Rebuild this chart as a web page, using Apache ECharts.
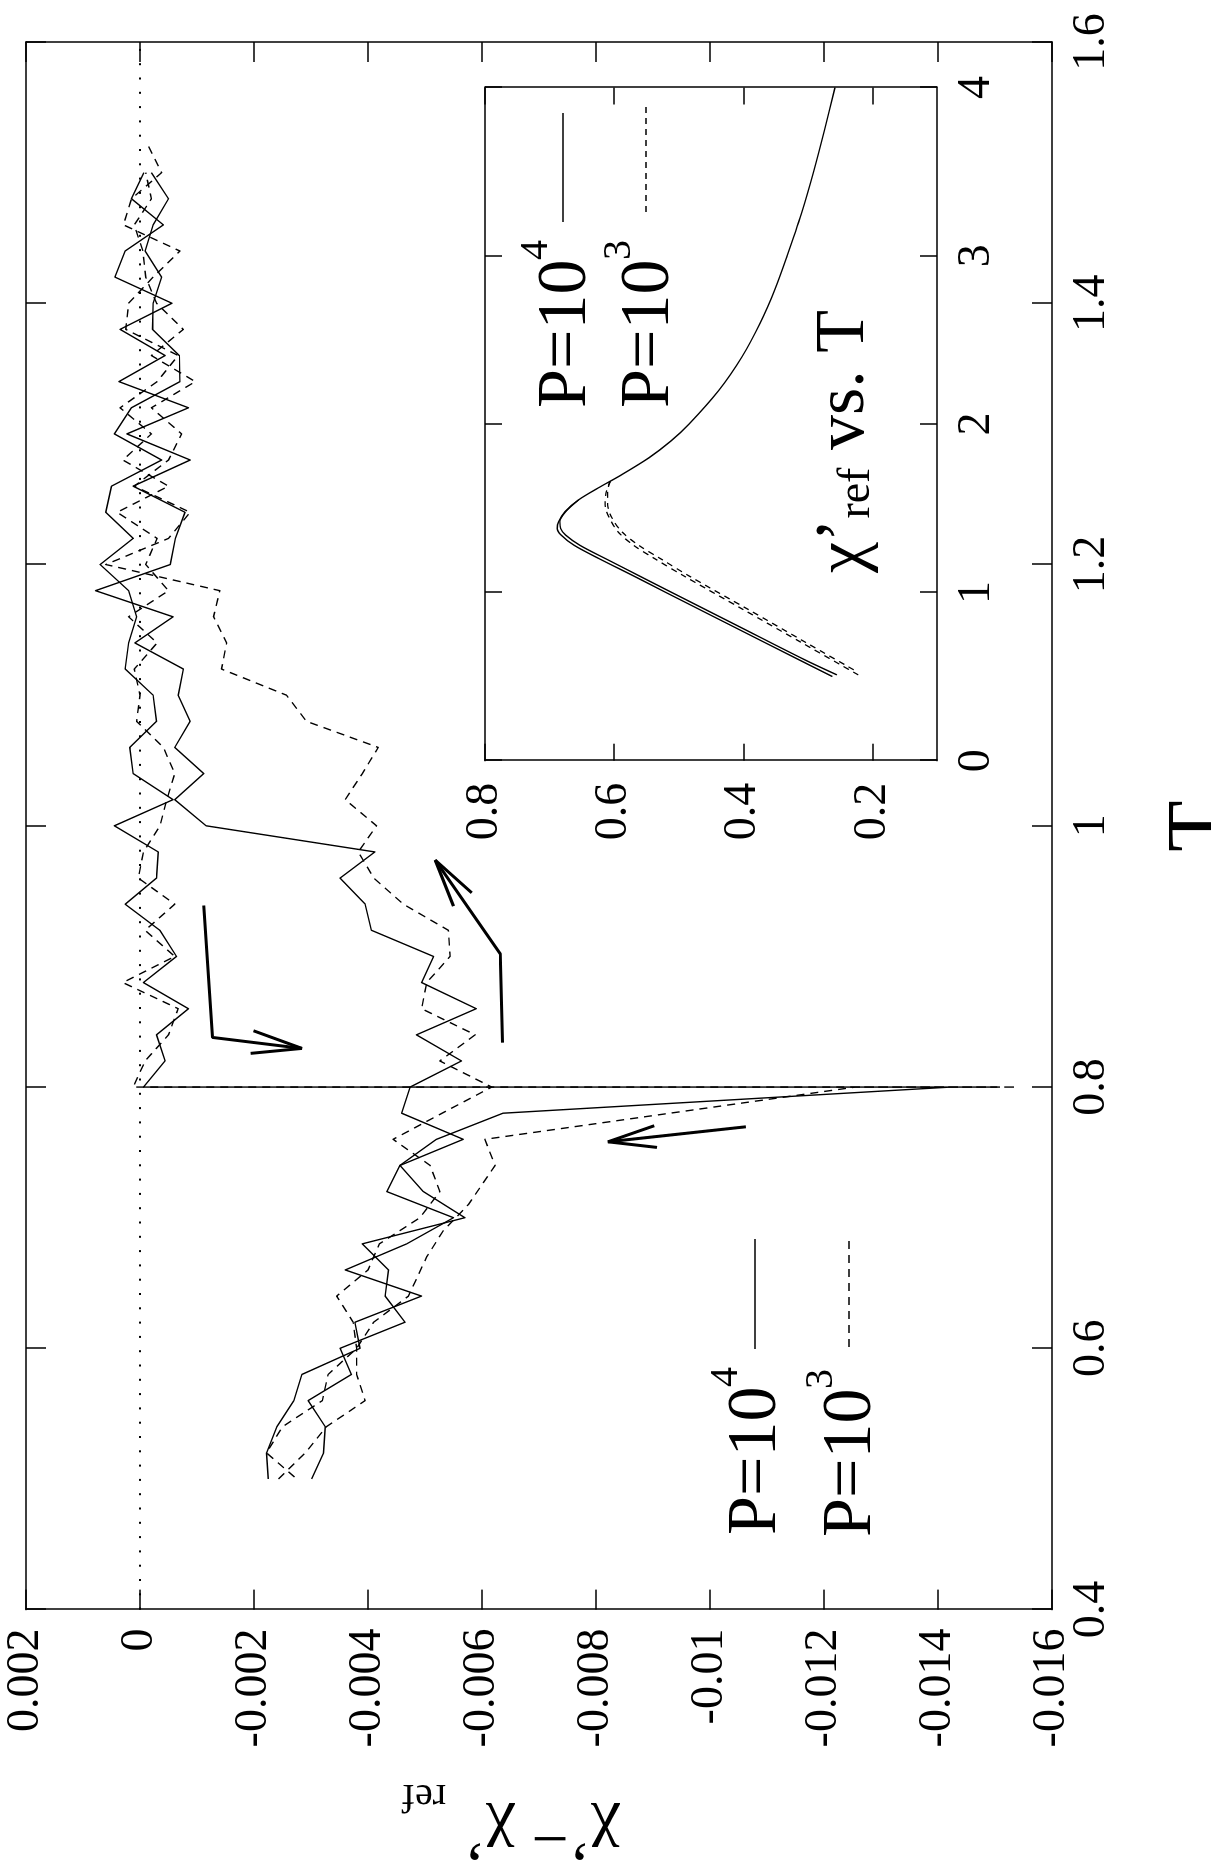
<!DOCTYPE html>
<html>
<head>
<meta charset="utf-8">
<script src="https://cdn.jsdelivr.net/npm/echarts@6/dist/echarts.min.js"></script>
<style>
  html, body { margin: 0; padding: 0; width: 1211px; height: 1876px; overflow: hidden; background: #fff; }
  /* the plot is laid out in landscape and turned a quarter turn counter-clockwise */
  #plot { position: absolute; left: 0; top: 0; width: 1876px; height: 1211px;
          transform-origin: 0 0; transform: translate(0, 1876px) rotate(-90deg); }
</style>
</head>
<body>
<div id="plot"></div>
<script>
// ---- main panel: chi' - chi'_ref versus T (values in units of 1e-3) ----
// P = 10^4, cooling 1.5 -> 0.8, stop at T = 0.8, then cooling on to 0.5
const tCoolP4 = [1.50,1.48,1.46,1.44,1.42,1.40,1.38,1.36,1.34,1.32,1.30,1.28,1.26,1.24,1.22,1.20,1.18,1.16,1.14,1.12,
  1.10,1.08,1.06,1.04,1.02,1.00,0.98,0.96,0.94,0.92,0.90,0.88,0.86,0.84,0.82,0.80,0.80,0.80,
  0.78,0.76,0.74,0.72,0.70,0.68,0.66,0.64,0.62,0.60,0.58,0.56,0.54,0.52,0.50];
const dChiCoolP4 = [-0.20,-0.50,-0.23,-0.09,-0.38,-0.23,-0.22,-0.69,-0.70,0.15,0.45,-0.38,0.50,0.60,0.12,0.70,0.20,0.06,0.20,0.26,
  -0.23,-0.29,0.18,0.12,-0.58,0.45,-0.32,-0.29,0.26,-0.35,-0.64,-0.06,-0.85,-0.29,-0.44,-0.06,-15.03,-14.22,
  -6.37,-5.20,-4.56,-4.97,-5.70,-3.90,-4.36,-4.30,-4.65,-3.51,-3.71,-2.95,-3.25,-3.22,-3.01];
// P = 10^4, reheating 0.5 -> 1.5
const tHeatP4 = [0.50,0.52,0.54,0.56,0.58,0.60,0.62,0.64,0.66,0.68,0.70,0.72,0.74,0.76,0.78,0.80,0.82,0.84,0.86,0.88,
  0.90,0.92,0.94,0.96,0.98,1.00,1.02,1.04,1.06,1.08,1.10,1.12,1.14,1.16,1.18,1.20,1.22,1.24,1.26,1.28,
  1.30,1.32,1.34,1.36,1.38,1.40,1.42,1.44,1.46,1.48,1.50];
const dChiHeatP4 = [-2.25,-2.22,-2.40,-2.70,-2.84,-3.86,-3.77,-4.94,-3.60,-4.68,-5.50,-4.33,-4.56,-5.67,-4.59,-4.74,-5.64,-4.85,-5.90,-4.94,
  -5.15,-4.06,-3.95,-3.51,-4.12,-1.16,-0.61,-1.12,-0.61,-0.88,-0.67,-0.76,0.09,-0.58,0.78,-0.53,-0.62,-0.79,0.12,-0.88,
  0.23,-0.85,0.37,-0.44,0.35,-0.56,0.44,0.26,-0.41,0.15,-0.07];
// P = 10^3, cooling with the stop at T = 0.8
const tCoolP3 = [1.52,1.50,1.48,1.46,1.44,1.42,1.40,1.38,1.36,1.34,1.32,1.30,1.28,1.26,1.24,1.22,1.20,1.18,1.16,1.14,
  1.12,1.10,1.08,1.06,1.04,1.02,1.00,0.98,0.96,0.94,0.92,0.90,0.88,0.86,0.84,0.82,0.80,0.80,0.80,
  0.76,0.74,0.71,0.69,0.67,0.64,0.62,0.60,0.58,0.56,0.54,0.52,0.50];
const dChiCoolP3 = [-0.15,-0.38,0.15,0.29,-0.70,-0.23,0.20,0.25,-0.67,-0.30,0.35,-0.20,0.30,-0.50,0.40,-0.30,-0.10,-0.50,0.20,-0.30,
  0.10,0.00,0.06,-0.41,-0.61,-0.47,-0.35,-0.06,0.03,-0.61,-0.09,-0.61,0.30,-0.67,-0.50,-0.09,0.12,-15.37,-12.55,
  -6.05,-6.23,-5.76,-5.32,-5.03,-4.71,-4.10,-3.80,-3.30,-3.20,-2.50,-2.22,-2.75];
// P = 10^3, reheating 0.5 -> 1.5
const tHeatP3 = tHeatP4.slice();
const dChiHeatP3 = [-2.43,-2.90,-3.27,-3.95,-3.80,-3.80,-3.74,-3.45,-4.00,-4.20,-4.91,-5.26,-5.09,-4.44,-5.30,-6.17,-5.26,-5.88,-4.94,-5.03,
  -5.44,-5.41,-4.62,-4.10,-3.83,-4.15,-3.60,-3.90,-4.18,-2.92,-2.57,-1.43,-1.52,-1.29,-1.40,0.60,-0.50,-0.88,0.10,-0.50,
  -0.73,-0.20,-0.97,-0.20,-0.76,-0.29,-0.10,-0.05,0.10,-0.20,-0.10];

// direction arrows (T, value in 1e-3)
const arrowDownShaftT = [0.939, 0.838, 0.8296], arrowDownShaftV = [-1.12, -1.27, -2.84];
const arrowDownHeadT  = [0.8431, 0.8296, 0.8258], arrowDownHeadV = [-1.99, -2.84, -1.94];
const arrowUpShaftT   = [0.834, 0.902, 0.9737],  arrowUpShaftV  = [-6.36, -6.32, -5.18];
const arrowUpHeadT    = [0.9385, 0.9737, 0.9487], arrowUpHeadV  = [-5.50, -5.18, -5.82];
const arrowBackShaftT = [0.7696, 0.7581],         arrowBackShaftV = [-10.63, -8.21];
const arrowBackHeadT  = [0.7704, 0.7581, 0.7538], arrowBackHeadV = [-9.02, -8.21, -9.07];

// ---- inset: chi'_ref versus T ----
const insetTP4a = [0.50,0.60,0.80,1.00,1.10,1.20,1.28,1.34,1.38,1.42,1.48,1.55,1.62,1.70,1.80,1.90,2.00,2.20,2.40,2.60,2.80,3.00,3.25,3.50,3.75,4.00];
const insetChiP4a = [0.262,0.314,0.417,0.520,0.571,0.623,0.662,0.682,0.688,0.686,0.676,0.655,0.625,0.588,0.546,0.512,0.484,0.438,0.402,0.374,0.351,0.332,0.310,0.291,0.274,0.258];
const insetTP4b = [0.51,0.60,0.80,1.00,1.10,1.20,1.28,1.34,1.38,1.42,1.48,1.55];
const insetChiP4b = [0.255,0.305,0.408,0.511,0.562,0.613,0.653,0.675,0.683,0.684,0.675,0.655];
const insetTP3a = [0.51,0.70,0.90,1.10,1.20,1.28,1.36,1.44,1.52,1.60,1.66];
const insetChiP3a = [0.222,0.309,0.401,0.493,0.537,0.570,0.594,0.607,0.614,0.612,0.606];
const insetTP3b = [0.54,0.70,0.90,1.10,1.20,1.28,1.36,1.44,1.52,1.60,1.66];
const insetChiP3b = [0.229,0.302,0.393,0.485,0.528,0.562,0.588,0.603,0.610,0.610,0.606];

// tick labels
const mainTTicks = [0.4, 0.6, 0.8, 1.0, 1.2, 1.4, 1.6];
const insetChiTicks = [0.2, 0.4, 0.6, 0.8];

const SERIF = '"Liberation Serif", "DejaVu Serif", serif';
const BLACK = '#000';
const milli = (ts, vs) => ts.map((t, i) => [t, vs[i] / 1000]);
const plain = (ts, vs) => ts.map((t, i) => [t, vs[i]]);

function lineSeries(data, opts) {
  return Object.assign({
    type: 'line', data: data, symbol: 'none', silent: true, animation: false,
    xAxisIndex: 0, yAxisIndex: 0, z: 3,
    lineStyle: { color: BLACK, width: 1.4, type: 'solid', join: 'round' }
  }, opts);
}
const dashed = [8, 6];

function valueAxis(base) {
  return Object.assign({
    type: 'value', splitLine: { show: false },
    axisLine: { show: true, onZero: false, lineStyle: { color: BLACK, width: 1.5 } },
    axisTick: { show: true, inside: true, length: 20, lineStyle: { color: BLACK, width: 1.5 } },
    axisLabel: { show: false }
  }, base);
}
const labelStyle = { color: BLACK, fontFamily: SERIF, fontSize: 46 };
const insetTick = { show: true, inside: true, length: 17, lineStyle: { color: BLACK, width: 1.5 } };

const chart = echarts.init(document.getElementById('plot'), null, { renderer: 'canvas', width: 1876, height: 1211 });

const option = {
  animation: false,
  backgroundColor: '#fff',
  grid: [
    { left: 266.4, right: 42, top: 26, bottom: 159 },
    { left: 1115.3, right: 87.5, top: 485, bottom: 274, show: true, backgroundColor: '#fff', borderWidth: 0 }
  ],
  xAxis: [
    valueAxis({ gridIndex: 0, position: 'bottom', min: 0.4, max: 1.6, interval: 0.2,
      axisLabel: Object.assign({ show: true, margin: 17, formatter: v => String(+v.toFixed(1)) }, labelStyle) }),
    valueAxis({ gridIndex: 0, position: 'top', min: 0.4, max: 1.6, interval: 0.2 }),
    valueAxis({ gridIndex: 1, position: 'bottom', min: 0, max: 4, interval: 1, axisTick: insetTick,
      axisLabel: Object.assign({ show: true, margin: 17, formatter: v => String(v) }, labelStyle) }),
    valueAxis({ gridIndex: 1, position: 'top', min: 0, max: 4, interval: 1, axisTick: insetTick })
  ],
  yAxis: [
    valueAxis({ gridIndex: 0, position: 'left', min: -0.016, max: 0.002, interval: 0.002,
      axisLabel: Object.assign({ show: true, margin: 19, formatter: v => String(+v.toFixed(3)) }, labelStyle) }),
    valueAxis({ gridIndex: 0, position: 'right', min: -0.016, max: 0.002, interval: 0.002 }),
    valueAxis({ gridIndex: 1, position: 'left', min: 0.1, max: 0.8,
      axisTick: Object.assign({ customValues: insetChiTicks }, insetTick),
      axisLabel: Object.assign({ show: true, margin: 22, customValues: insetChiTicks, formatter: v => v.toFixed(1) }, labelStyle) }),
    valueAxis({ gridIndex: 1, position: 'right', min: 0.1, max: 0.8,
      axisTick: Object.assign({ customValues: insetChiTicks }, insetTick) })
  ],
  series: [
    // zero reference line
    lineSeries([[mainTTicks[0], 0], [mainTTicks[mainTTicks.length - 1], 0]],
      { z: 2, lineStyle: { color: BLACK, width: 2, type: [2, 12.3] } }),
    lineSeries(milli(tCoolP4, dChiCoolP4)),
    lineSeries(milli(tHeatP4, dChiHeatP4)),
    lineSeries(milli(tCoolP3, dChiCoolP3), { lineStyle: { color: BLACK, width: 1.4, type: dashed, join: 'round' } }),
    lineSeries(milli(tHeatP3, dChiHeatP3), { lineStyle: { color: BLACK, width: 1.4, type: dashed, join: 'round' } }),
    // arrows
    lineSeries(milli(arrowDownShaftT, arrowDownShaftV), { lineStyle: { color: BLACK, width: 3 } }),
    lineSeries(milli(arrowDownHeadT, arrowDownHeadV), { lineStyle: { color: BLACK, width: 3 } }),
    lineSeries(milli(arrowUpShaftT, arrowUpShaftV), { lineStyle: { color: BLACK, width: 3 } }),
    lineSeries(milli(arrowUpHeadT, arrowUpHeadV), { lineStyle: { color: BLACK, width: 3 } }),
    lineSeries(milli(arrowBackShaftT, arrowBackShaftV), { lineStyle: { color: BLACK, width: 3 } }),
    lineSeries(milli(arrowBackHeadT, arrowBackHeadV), { lineStyle: { color: BLACK, width: 3 } }),
    // inset curves
    lineSeries(plain(insetTP4a, insetChiP4a), { xAxisIndex: 2, yAxisIndex: 2, z: 5, smooth: 0.3 }),
    lineSeries(plain(insetTP4b, insetChiP4b), { xAxisIndex: 2, yAxisIndex: 2, z: 5, smooth: 0.3 }),
    lineSeries(plain(insetTP3a, insetChiP3a), { xAxisIndex: 2, yAxisIndex: 2, z: 5, smooth: 0.3,
      lineStyle: { color: BLACK, width: 1.3, type: [6, 5] } }),
    lineSeries(plain(insetTP3b, insetChiP3b), { xAxisIndex: 2, yAxisIndex: 2, z: 5, smooth: 0.3,
      lineStyle: { color: BLACK, width: 1.3, type: [6, 5] } })
  ],
  graphic: [
    // axis titles
    { type: 'text', x: 1050, y: 1203, z: 10,
      style: { text: 'T', font: '84px ' + SERIF, fill: BLACK, align: 'center', verticalAlign: 'middle' } },
    { type: 'text', x: 42, y: 620, rotation: Math.PI / 2, z: 10,
      style: { text: 'χ’− χ’', font: '66px ' + SERIF, fill: BLACK, align: 'left', verticalAlign: 'middle' } },
    { type: 'text', x: 80, y: 446, rotation: Math.PI / 2, z: 10,
      style: { text: 'ref', font: '40px ' + SERIF, fill: BLACK, align: 'left', verticalAlign: 'middle' } },
    // key of the main panel
    { type: 'text', x: 341, y: 757, z: 10, style: { text: 'P=10', font: '70px ' + SERIF, fill: BLACK, verticalAlign: 'middle' } },
    { type: 'text', x: 489, y: 726, z: 10, style: { text: '4', font: '40px ' + SERIF, fill: BLACK, verticalAlign: 'middle' } },
    { type: 'line', z: 10, shape: { x1: 527, y1: 755, x2: 637, y2: 755 }, style: { stroke: BLACK, lineWidth: 1.4 } },
    { type: 'text', x: 339, y: 852, z: 10, style: { text: 'P=10', font: '70px ' + SERIF, fill: BLACK, verticalAlign: 'middle' } },
    { type: 'text', x: 487, y: 821, z: 10, style: { text: '3', font: '40px ' + SERIF, fill: BLACK, verticalAlign: 'middle' } },
    { type: 'line', z: 10, shape: { x1: 529, y1: 849, x2: 640, y2: 849 }, style: { stroke: BLACK, lineWidth: 1.4, lineDash: dashed } },
    // key and caption of the inset
    { type: 'text', x: 1468, y: 567, z: 10, style: { text: 'P=10', font: '70px ' + SERIF, fill: BLACK, verticalAlign: 'middle' } },
    { type: 'text', x: 1616, y: 536, z: 10, style: { text: '4', font: '40px ' + SERIF, fill: BLACK, verticalAlign: 'middle' } },
    { type: 'line', z: 10, shape: { x1: 1654, y1: 563, x2: 1763, y2: 563 }, style: { stroke: BLACK, lineWidth: 1.4 } },
    { type: 'text', x: 1468, y: 650, z: 10, style: { text: 'P=10', font: '70px ' + SERIF, fill: BLACK, verticalAlign: 'middle' } },
    { type: 'text', x: 1616, y: 619, z: 10, style: { text: '3', font: '40px ' + SERIF, fill: BLACK, verticalAlign: 'middle' } },
    { type: 'line', z: 10, shape: { x1: 1664, y1: 646, x2: 1773, y2: 646 }, style: { stroke: BLACK, lineWidth: 1.4, lineDash: [6, 5] } },
    { type: 'text', x: 1303, y: 845, z: 10,
      style: { text: '{c|χ’}{r|ref}{c| vs. T}', fill: BLACK, verticalAlign: 'middle',
        rich: { c: { font: '70px ' + SERIF, fill: BLACK, lineHeight: 70, verticalAlign: 'bottom' },
                r: { font: '46px ' + SERIF, fill: BLACK, lineHeight: 36, verticalAlign: 'bottom' } } } }
  ]
};
chart.setOption(option);
</script>
</body>
</html>
